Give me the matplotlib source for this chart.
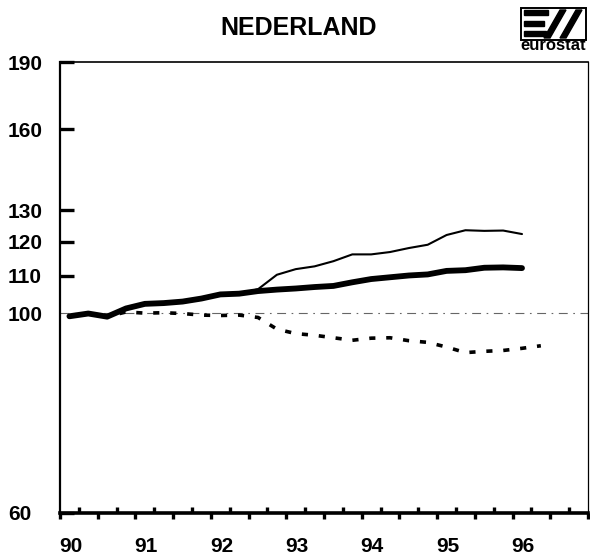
import numpy as np
import matplotlib
matplotlib.use('Agg')
import matplotlib.pyplot as plt
import matplotlib.transforms as mtransforms
from matplotlib.patches import Rectangle, Polygon

plt.rcParams['font.family'] = ['Liberation Sans', 'DejaVu Sans']
plt.rcParams['font.weight'] = 'bold'

# quarterly index (1990 = 100), points at mid-quarter
quarters = 1990 + (np.arange(26) + 0.5) / 4
thick = [99.2, 99.9, 99.1, 101.2, 102.4, 102.6, 103.0, 103.8, 104.9, 105.1,
         105.8, 106.2, 106.5, 106.9, 107.2, 108.2, 109.1, 109.6, 110.1, 110.4,
         111.4, 111.6, 112.3, 112.4, 112.2]
thin = [99.2, 99.9, 99.1, 101.2, 102.4, 102.6, 103.0, 103.8, 104.9, 105.1,
        106.3, 110.3, 111.9, 112.7, 114.2, 116.2, 116.2, 116.9, 118.1, 119.1,
        122.1, 123.6, 123.4, 123.5, 122.4]
dotted = [99.2, 99.9, 99.1, 100.3, 100.0, 100.1, 99.9, 99.5, 99.4, 99.5,
          98.9, 96.0, 94.9, 94.5, 93.9, 93.3, 93.8, 93.9, 93.2, 92.8,
          91.7, 90.4, 90.7, 90.9, 91.4, 92.0]
base = 100

years = [1990, 1991, 1992, 1993, 1994, 1995, 1996]
year_labels = ['90', '91', '92', '93', '94', '95', '96']
y_ticks = [60, 100, 110, 120, 130, 160, 190]

fig = plt.figure(figsize=(5.9, 5.58), dpi=100)
ax = fig.add_axes([60 / 590, 1 - 513 / 558, 528 / 590, 451 / 558])

ax.set_yscale('log')
ax.set_xlim(1990, 1997)
ax.set_ylim(60, 190)

# reference line at 100
ax.plot([1990, 1997], [base, base], color='#666666', lw=0.8,
        linestyle=(0, (8, 5, 1.5, 5)))
ax.plot(quarters[:len(dotted)], dotted, color='black', lw=2.6,
        linestyle=(0, (1.7, 3.0)), dash_capstyle='butt')
ax.plot(quarters[:len(thin)], thin, color='black', lw=1.5,
        solid_capstyle='round', solid_joinstyle='round')
ax.plot(quarters[:len(thick)], thick, color='black', lw=4.2,
        solid_capstyle='round', solid_joinstyle='round')

# spines
ax.spines['left'].set_linewidth(1.6)
ax.spines['bottom'].set_linewidth(2.6)
ax.spines['top'].set_linewidth(1.2)
ax.spines['right'].set_linewidth(0.9)

# y axis
ax.yaxis.set_minor_locator(matplotlib.ticker.NullLocator())
ax.set_yticks(y_ticks)
ax.set_yticklabels([str(v) for v in y_ticks])
ax.tick_params(axis='y', which='major', direction='in', length=10, width=2.4,
               pad=37.4, labelsize=15)
for lab in ax.get_yticklabels():
    lab.set_horizontalalignment('left')
    lab.set_fontweight('bold')
ax.yaxis.get_major_ticks()[y_ticks.index(100)].tick1line.set_visible(False)

# x axis: half-year ticks below, odd quarters above
ax.set_xticks(np.arange(1990, 1997.01, 0.5))
ax.set_xticks(np.arange(1990.25, 1997, 0.5), minor=True)
ax.tick_params(axis='x', which='major', direction='out', length=4, width=2.4)
ax.tick_params(axis='x', which='minor', direction='in', length=4, width=2.4)
ax.tick_params(axis='x', which='both', labelbottom=False)

trans = mtransforms.blended_transform_factory(ax.transData, ax.transAxes)
for yr, lab in zip(years, year_labels):
    ax.text(yr + 0.14, -0.075, lab, transform=trans, ha='center', va='center',
            fontsize=15, fontweight='bold')

fig.text(299 / 590, 1 - 28 / 558, 'NEDERLAND', ha='center', va='center',
         fontsize=18, fontweight='bold')


# eurostat logo
def px(x, y):
    return (x / 590, 1 - y / 558)


fig.patches.append(Rectangle(px(521, 40), 65 / 590, 32 / 558, fill=False,
                             lw=1.4, edgecolor='black', transform=fig.transFigure))
for y0, y1, x1 in [(10, 15, 548), (21, 26, 544), (31, 36, 546)]:
    fig.patches.append(Polygon([px(524, y0), px(x1, y0), px(x1, y1), px(524, y1)],
                               closed=True, color='black', transform=fig.transFigure))
fig.patches.append(Polygon([px(544, 38), px(550, 38), px(566, 10), px(560, 10)],
                           closed=True, color='black', transform=fig.transFigure))
fig.patches.append(Polygon([px(560, 38), px(566, 38), px(582, 10), px(576, 10)],
                           closed=True, color='black', transform=fig.transFigure))
fig.text(553 / 590, 1 - 46 / 558, 'eurostat', ha='center', va='center',
         fontsize=12, fontweight='bold')

fig.savefig('out.png', dpi=100)
